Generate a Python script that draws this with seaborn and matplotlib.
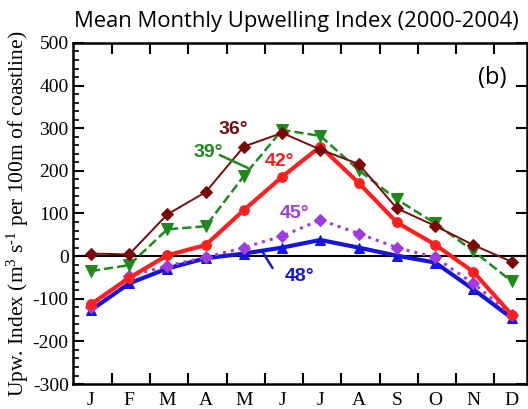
import numpy as np
import pandas as pd
import seaborn as sns
import matplotlib
matplotlib.use("Agg")
import matplotlib.pyplot as plt

sns.set_theme(style="white")
plt.rcParams["mathtext.fontset"] = "custom"
plt.rcParams["mathtext.rm"] = "Liberation Serif"
plt.rcParams["mathtext.it"] = "Liberation Serif:italic"

months = ["J", "F", "M", "A", "M", "J", "J", "A", "S", "O", "N", "D"]

lat36 = [6, 4, 98, 150, 257, 289, 250, 216, 112, 71, 26, -13]
lat39 = [-35, -21, 63, 70, 188, 296, 282, 202, 133, 77, 12, -59]
lat42 = [-113, -51, 2, 26, 108, 186, 257, 172, 79, 27, -37, -137]
lat45 = [-119, -47, -23, -3, 20, 47, 85, 53, 20, -3, -64, -138]
lat48 = [-127, -64, -29, -5, 6, 20, 38, 20, 1, -15, -78, -145]

yticks = list(range(-300, 501, 100))

idx = np.arange(len(months))
df = pd.DataFrame({
    "m": np.tile(idx, 5),
    "v": lat48 + lat45 + lat42 + lat39 + lat36,
    "lat": np.repeat(["48", "45", "42", "39", "36"], 12),
})

styles = {
    "48": dict(color="#1515dd", marker="^", lw=3.0, ls="-", ms=7),
    "45": dict(color="#a03be0", marker="D", lw=2.2, ls=":", ms=6),
    "42": dict(color="#ff1f1f", marker="o", lw=3.0, ls="-", ms=7),
    "39": dict(color="#1e8a1e", marker="v", lw=1.8, ls="--", ms=8),
    "36": dict(color="#7a0a0a", marker="D", lw=1.4, ls="-", ms=6),
}

fig = plt.figure(figsize=(5.28, 4.09), dpi=100)
ax = fig.add_axes([0.138, 0.061, 0.86, 0.834])

ax.axhline(0, color="black", lw=1.5, zorder=1)

for key in ["48", "45", "42", "39", "36"]:
    s = styles[key]
    sub = df[df["lat"] == key]
    sns.lineplot(data=sub, x="m", y="v", ax=ax, color=s["color"],
                 marker=s["marker"], markersize=s["ms"], linewidth=s["lw"],
                 linestyle=s["ls"], markeredgecolor=s["color"],
                 markerfacecolor=s["color"], legend=False, zorder=3)

ax.set_xlim(-0.47, 11.4)
ax.set_ylim(-300, 500)

serif = "Liberation Serif"
ax.set_xticks(idx)
ax.set_xticklabels(months, fontfamily=serif, fontsize=14)
ax.set_xticks(np.arange(0.55, 11, 1), minor=True)
ax.set_yticks(yticks)
ax.set_yticklabels([str(t) for t in yticks], fontfamily=serif, fontsize=14)
ax.set_yticks(np.arange(-300, 501, 20), minor=True)

ax.tick_params(axis="x", which="major", length=0, pad=6, colors="black")
ax.tick_params(axis="x", which="minor", direction="in", length=8, width=1.5,
               top=True, bottom=True, color="black")
ax.tick_params(axis="y", which="major", direction="in", length=8, width=1.5,
               left=True, right=True, pad=3, colors="black")
ax.tick_params(axis="y", which="minor", direction="in", length=4, width=1.2,
               left=True, right=False, color="black")
for sp in ax.spines.values():
    sp.set_color("black")
    sp.set_linewidth(1.8)

ax.set_xlabel("")
ax.set_ylabel(r"Upw. Index (m$^3$ s$^{\text{-}1}$ per 100m of coastline)",
              fontfamily=serif, fontsize=15.5, labelpad=1, color="black")

fig.text(0.561, 0.948, "Mean Monthly Upwelling Index (2000-2004)",
         ha="center", va="center", fontsize=15.8, fontfamily="Open Sans",
         color="black")
ax.text(0.923, 0.897, "(b)", transform=ax.transAxes, ha="center",
        va="center", fontsize=17, fontfamily="Open Sans", color="black")

lab = dict(fontsize=14, fontweight="bold", fontfamily="Liberation Sans",
           ha="center", va="center")
ax.text(3.73, 296, "36°", color=styles["36"]["color"], **lab)
ax.text(3.08, 244, "39°", color=styles["39"]["color"], **lab)
ax.annotate("", xy=(4.1, 207), xytext=(3.37, 237),
            arrowprops=dict(arrowstyle="-", color=styles["39"]["color"], lw=1.8,
                            shrinkA=0, shrinkB=0))
ax.text(4.93, 221, "42°", color=styles["42"]["color"], **lab)
ax.text(5.33, 99, "45°", color=styles["45"]["color"], **lab)
ax.text(5.46, -47, "48°", color=styles["48"]["color"], **lab)
ax.annotate("", xy=(4.46, 14), xytext=(4.75, -28),
            arrowprops=dict(arrowstyle="-", color=styles["48"]["color"], lw=1.8,
                            shrinkA=0, shrinkB=0))

fig.savefig("out.png", dpi=100)
